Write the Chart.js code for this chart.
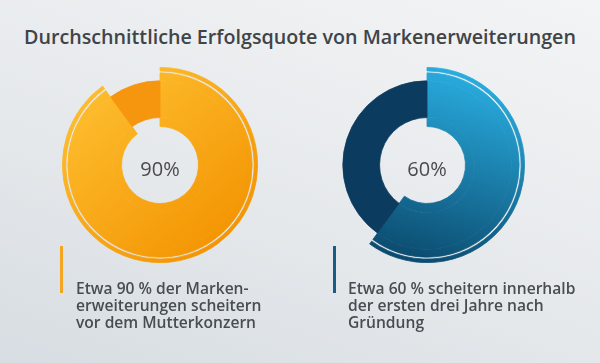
<!DOCTYPE html>
<html>
<head>
<meta charset="utf-8">
<script src="https://cdn.jsdelivr.net/npm/chart.js@4.4.0/dist/chart.umd.min.js"></script>
<style>
  html, body { margin: 0; padding: 0; }
  body {
    width: 600px; height: 363px; overflow: hidden; position: relative;
    background: linear-gradient(20deg, #d7dde2 0%, #e6e9ec 45%, #f3f4f5 100%);
    font-family: "Open Sans", sans-serif; color: #44494e;
  }
  #title {
    position: absolute; left: 0; top: 25px; width: 600px; text-align: center;
    font-size: 19.7px; font-weight: 600; line-height: 24px; color: #3f4449;
  }
  .box { position: absolute; width: 196px; height: 196px; }
  .bar { position: absolute; top: 246px; width: 3px; height: 47px; }
  .cap {
    position: absolute; top: 280px; font-size: 15.6px; font-weight: 600;
    line-height: 17px; color: #484d52; white-space: nowrap;
  }
</style>
</head>
<body>
<div id="title">Durchschnittliche Erfolgsquote von Markenerweiterungen</div>

<div class="box" style="left:62px; top:67px;"><canvas id="c0"></canvas></div>
<div class="box" style="left:329px; top:67px;"><canvas id="c1"></canvas></div>

<div class="bar" style="left:60px; background:#f5a524;"></div>
<div class="cap" id="cap0" style="left:76px;"></div>
<div class="bar" style="left:333px; background:#195d86;"></div>
<div class="cap" id="cap1" style="left:348px;"></div>

<script>
// values
const failed = [90, 60];
const rest = [10, 40];
const centerLabels = ['90%', '60%'];
const captions = [
  ['Etwa 90 % der Marken-', 'erweiterungen scheitern', 'vor dem Mutterkonzern'],
  ['Etwa 60 % scheitern innerhalb', 'der ersten drei Jahre nach', 'Gründung']
];

// colours per chart: gradient stops for the main slice, solid for the rest
const gradStops = [['#fdbd2e', '#f39200'], ['#29ade0', '#0a4669']];
const gradLine = [[0.15, 0.12, 0.85, 0.95], [0.6, 0.0, 0.3, 1.0]];
const restColors = ['#f6960f', '#0b3b5e'];

// ring layout, outer to inner: thin arc, gap, main outer, main+rest, main inner
const ringWeights = [3.5, 2, 8, 37, 9];
// which slices each ring paints: [main, rest]
const ringShows = [[1, 0], [0, 0], [1, 0], [1, 1], [1, 0]];

const none = 'rgba(0,0,0,0)';
const grads = [null, null];

function mainGradient(chart, i) {
  const a = chart.chartArea;
  if (!a) return gradStops[i][1];
  if (grads[i]) return grads[i];
  const g = gradLine[i];
  const w = a.right - a.left, h = a.bottom - a.top;
  const grd = chart.ctx.createLinearGradient(
    a.left + g[0] * w, a.top + g[1] * h, a.left + g[2] * w, a.top + g[3] * h);
  grd.addColorStop(0, gradStops[i][0]);
  grd.addColorStop(1, gradStops[i][1]);
  grads[i] = grd;
  return grd;
}

const centerText = {
  id: 'centerText',
  afterDraw(chart, args, opts) {
    const m = chart.getDatasetMeta(0).data[0];
    if (!m) return;
    const c = chart.ctx;
    c.save();
    c.font = '400 20px "Open Sans"';
    c.fillStyle = '#4a4a4c';
    c.textAlign = 'center';
    c.textBaseline = 'middle';
    c.fillText(opts.text, m.x, m.y + 5);
    c.restore();
  }
};

for (let i = 0; i < 2; i++) {
  const colorFor = (k) => (ctx) => {
    if (!ringShows[k][ctx.dataIndex]) return none;
    return ctx.dataIndex === 0 ? mainGradient(ctx.chart, i) : restColors[i];
  };
  const datasets = ringWeights.map((wt, k) => ({
    data: [failed[i], rest[i]],
    weight: wt,
    backgroundColor: colorFor(k),
    borderColor: colorFor(k),
    borderWidth: k === 1 ? 0 : 0.8,
    hoverOffset: 0
  }));

  new Chart(document.getElementById('c' + i), {
    type: 'doughnut',
    data: { labels: ['scheitern', 'Rest'], datasets: datasets },
    options: {
      responsive: true,
      maintainAspectRatio: false,
      animation: false,
      cutout: 38.5,
      events: [],
      plugins: {
        legend: { display: false },
        tooltip: { enabled: false },
        centerText: { text: centerLabels[i] }
      }
    },
    plugins: [centerText]
  });

  document.getElementById('cap' + i).innerHTML = captions[i].join('<br>');
}
</script>
</body>
</html>
